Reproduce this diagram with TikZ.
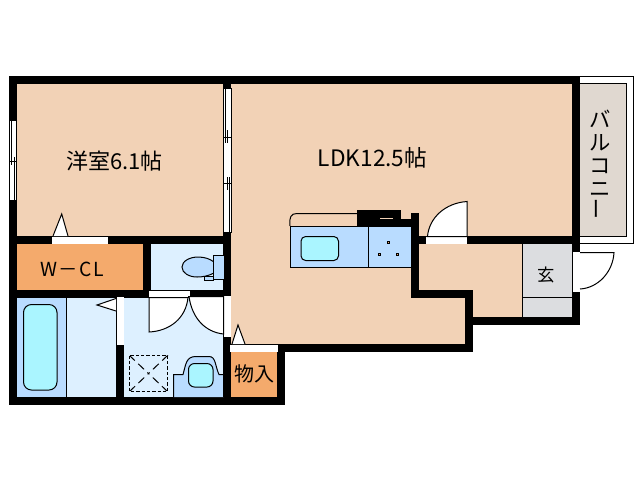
\documentclass[tikz,border=0pt]{standalone}
\usepackage{fontspec}
\usepackage{graphicx}
\setmainfont{Noto Sans CJK JP}
\usepackage{xcolor}
\usetikzlibrary{positioning}

\definecolor{roomtan}{HTML}{F2D2B6}
\definecolor{closet}{HTML}{F4AA6C}
\definecolor{wetpale}{HTML}{DDF0FF}
\definecolor{wetmid}{HTML}{B9DCFF}
\definecolor{wetaqua}{HTML}{AAF5FF}
\definecolor{balcony}{HTML}{E0D8D0}
\definecolor{entrygray}{HTML}{DCDDE0}

\tikzset{
  wall/.style={fill=black},
  thinline/.style={draw=black, line width=0.75pt},
  gap/.style={fill=white},
  label/.style={inner sep=0pt, text=black},
  drainline/.style={thinline, dash pattern=on 5pt off 3.5pt on 6pt off 3.5pt on 2pt off 3.5pt on 6pt off 3.5pt on 5pt off 9pt}
}

\begin{document}
\begin{tikzpicture}[x=0.75pt, y=-0.75pt]
\useasboundingbox[fill=white] (0,0) rectangle (638,480);

% floors
\fill[roomtan] (17,84) rectangle (223,236);
\fill[roomtan] (231,84) -- (572,84) -- (572,236) -- (419,236) -- (419,298) -- (465,298) -- (465,344) -- (231,344) -- cycle;
\fill[roomtan] (419,244) -- (522,244) -- (522,317) -- (473,317) -- (473,290) -- (419,290) -- cycle;
\fill[closet] (17,244) rectangle (143,290);
\fill[closet] (231,351) rectangle (277,397);
\fill[wetpale] (151,244) rectangle (224,290);
\fill[wetpale] (66,298) rectangle (116,397);
\fill[wetpale] (124,298) rectangle (224,397);
\fill[wetmid] (17,298) rectangle (66,397);
\fill[entrygray] (522,244) rectangle (572,317);
\draw[thinline] (522.5,244) -- (522.5,317);
\draw[thinline] (522,297) -- (572,297);

% balcony
\draw[thinline] (580,76.5) -- (633,76.5) -- (633,243) -- (580,243);
\draw[thinline, fill=balcony] (580,83.5) -- (626,83.5) -- (626,236) -- (580,236);

% walls
\fill[wall] (9,76) rectangle (580,84);
\fill[wall] (9,76) rectangle (17,405);
\fill[wall] (9,397) rectangle (285,405);
\fill[wall] (223,76) rectangle (231,397);
\fill[wall] (17,236) rectangle (231,244);
\fill[wall] (17,290) rectangle (231,298);
\fill[wall] (143,244) rectangle (151,298);
\fill[wall] (116,298) rectangle (124,397);
\fill[wall] (231,344) rectangle (473,352);
\fill[wall] (277,344) rectangle (285,405);
\fill[wall] (411,213) rectangle (419,298);
\fill[wall] (411,290) rectangle (473,298);
\fill[wall] (465,290) rectangle (473,352);
\fill[wall] (411,236) rectangle (580,244);
\fill[wall] (473,317) rectangle (580,325);
\fill[wall] (572,76) rectangle (580,325);

% windows
\draw[thinline, fill=white] (223.5,88) rectangle (231,232);
\draw[thinline] (225.5,88) -- (225.5,143);
\draw[thinline] (227.5,130) -- (227.5,143);
\draw[thinline] (223,137) -- (231,137);
\draw[thinline] (229.5,177) -- (229.5,232);
\draw[thinline] (227.5,177) -- (227.5,190);
\draw[thinline] (223,183) -- (231,183);
\draw[thinline, fill=white] (9.5,120.5) rectangle (16.5,200);
\draw[thinline] (11.5,121) -- (11.5,165);
\draw[thinline] (14.5,157) -- (14.5,200);
\draw[thinline] (9,161) -- (17,161);

% doors
\fill[gap] (52,236.5) rectangle (108,243.5);
\draw[thinline, fill=white] (53,236) -- (61.7,214) -- (68,236);
\fill[gap] (149,290.5) rectangle (190,297);
\draw[thinline, fill=white] (149,297.5) -- (149,332) .. controls (170,331) and (186,318) .. (188,297.5) -- cycle;
\fill[gap] (224,296) rectangle (231,337);
\draw[thinline, fill=white] (188,296.5) -- (223.5,296.5) -- (223.5,334) .. controls (205,332) and (192,318) .. (189,296.5);
\fill[gap] (116.5,297) rectangle (124,345);
\draw[thinline, fill=white] (116,298.5) -- (97,305) -- (116,311);
\fill[gap] (230,345) rectangle (278,351.5);
\draw[thinline, fill=white] (232,344) -- (238,325) -- (245,344);
\fill[gap] (426,236.5) rectangle (467,244);
\draw[thinline, fill=white] (426.5,236.5) -- (467,236.5) -- (467,201.5) .. controls (445,203) and (429,218) .. (427.5,236.5);
\fill[gap] (573,252) rectangle (579.5,292);
\draw[thinline] (580,252.5) -- (614,252.5) .. controls (613,272) and (598,288) .. (580,289);

% kitchen
\fill[wall] (357,210) rectangle (401,226);
\fill[wall] (401,219) rectangle (411,226);
\fill[roomtan] (380,218) rectangle (393,219);
\draw[thinline] (290,226) .. controls (289,217) and (291,213.5) .. (297,213.5) -- (357,213.5);
\draw[thinline, fill=wetmid] (290.5,226.5) rectangle (411,267);
\draw[thinline] (368.5,226.5) -- (368.5,267);
\draw[thinline, fill=wetaqua, rounded corners=3.5pt] (301,236.5) rectangle (338.5,260.5);
\foreach \bx/\by in {388/242,379/254,397/254}{
  \fill[black] (\bx-1.5,\by-1.5) rectangle (\bx+1.5,\by+1.5);
  \fill[closet] (\bx-0.5,\by-0.5) rectangle (\bx+0.5,\by+0.5);
}

% toilet
\draw[thinline, fill=wetmid] (182,267) .. controls (182,261) and (190,257) .. (198,257) .. controls (205,257) and (210,259) .. (214,262) -- (214,273) .. controls (208,276) and (203,277) .. (197,277) .. controls (189,277) and (182,273) .. (182,267) -- cycle;
\draw[thinline, fill=wetmid] (213.5,255.5) rectangle (224,279);
\draw[thinline, fill=wetmid] (204.5,276.5) rectangle (213.5,280);

% bath
\draw[thinline] (66.5,298) -- (66.5,397);
\draw[thinline, fill=wetaqua, rounded corners=6pt] (23.5,304.5) rectangle (57,390);

% wash room
\draw[thinline, dash pattern=on 2.5pt off 1.5pt] (129.5,355.5) rectangle (167.5,391.5);
\draw[drainline] (130,356) -- (167,391);
\draw[drainline] (167,356) -- (130,391);
\draw[thinline, fill=wetmid] (173.5,397) -- (173.5,374.5) -- (183,374.5) .. controls (186,364) and (186,356.5) .. (196,356.5) -- (209,356.5) .. controls (216,356.5) and (215,366) .. (219,374.5) -- (223.5,374.5) -- (223.5,397);
\draw[thinline, fill=wetaqua, rounded corners=4.5pt] (188.5,363.5) rectangle (213,387);

% labels
\node[label, font=\fontsize{16.5pt}{16.5pt}\selectfont] (yoshitsu) at (114.5,161) {洋室6.1帖};
\node[label, font=\fontsize{17pt}{17pt}\selectfont] (ldk) at (372.5,158) {LDK12.5帖};
\node[label, font=\fontsize{14.5pt}{14.5pt}\selectfont\addfontfeature{LetterSpace=7}] (wcl) at (72,269) {W－CL};
\node[label, font=\fontsize{15pt}{15pt}\selectfont] (monoire) at (254,374) {物入};
\node[label, font=\fontsize{13pt}{13pt}\selectfont] (genkan) at (546,275) {玄};
\node[label, font=\fontsize{16pt}{17.2pt}\selectfont, align=center] (balc) at (600,165) {バ\\ル\\コ\\ニ\\\rotatebox{90}{ー}};

\end{tikzpicture}
\end{document}
